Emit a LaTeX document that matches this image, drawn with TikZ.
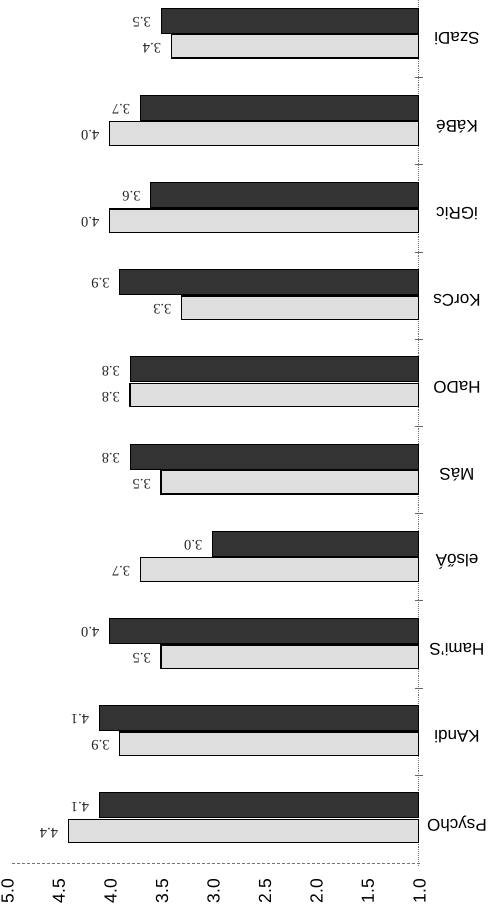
\documentclass[tikz,border=0pt]{standalone}
\usepackage{fontspec}
\setmainfont{Liberation Sans}
\newfontfamily\valfont{Liberation Serif}
\begin{document}
\begin{tikzpicture}[x=1pt,y=-1pt,
  darkbar/.style={fill=black!80,draw=black,line width=0.8pt},
  lightbar/.style={fill=black!13,draw=black,line width=1.3pt},
  vallab/.style={rotate=180,inner sep=0pt,font=\valfont\fontsize{14.5}{15}\selectfont,text=black!85},
  catlab/.style={rotate=180,inner sep=0pt,font=\fontsize{17}{19}\selectfont},
  axlab/.style={rotate=90,inner sep=0pt,font=\fontsize{17.5}{19}\selectfont},
  axline/.style={draw=black!55,line width=0.9pt},
  tickmark/.style={draw=black!60,line width=0.8pt}]
\useasboundingbox (0,0) rectangle (502,917);
\def\base{418.5}
\def\unit{103}
\def\pitch{87.2}
% value axis
\draw[axline,densely dashed] (12,863) coordinate (axl) -- (420,863) coordinate (axr);
\draw[axline,densely dotted] (\base,0) coordinate (bt) -- (\base,865) coordinate (bb);
\foreach \i in {0,...,8}{
  \pgfmathsetmacro\ty{77.5+\pitch*\i}
  \draw[tickmark] (\base-4,\ty) -- (\base+4,\ty);
}
\foreach \lab/\d/\l [count=\i from 0] in {SzaDi/3.5/3.4, KáBé/3.7/4.0, iGRic/3.6/4.0, KorCs/3.9/3.3, HaDO/3.8/3.8, MáS/3.8/3.5, elsőÁ/3.0/3.7, Hami'S/4.0/3.5, KAndi/4.1/3.9, PsychO/4.1/4.4}{
  \pgfmathsetmacro\tp{8+\pitch*\i}
  \pgfmathsetmacro\xd{\base-(\d-1)*\unit}
  \pgfmathsetmacro\xl{\base-(\l-1)*\unit}
  \draw[darkbar] (\xd,\tp) rectangle (\base,\tp+25);
  \draw[lightbar] (\xl,\tp+26.5) rectangle (\base,\tp+50);
  \node[vallab,anchor=west] (vd\i) at (\xd-10,\tp+14) {\d};
  \node[vallab,anchor=west] (vl\i) at (\xl-10,\tp+40) {\l};
  \node[catlab] (c\i) at (457,\tp+31) {\lab};
}
\foreach \v [count=\j] in {5.0,4.5,4.0,3.5,3.0,2.5,2.0,1.5,1.0}{
  \node[axlab] (ax\j) at ({\base-(\v-1)*\unit+1},891) {\v};
}
\end{tikzpicture}
\end{document}
